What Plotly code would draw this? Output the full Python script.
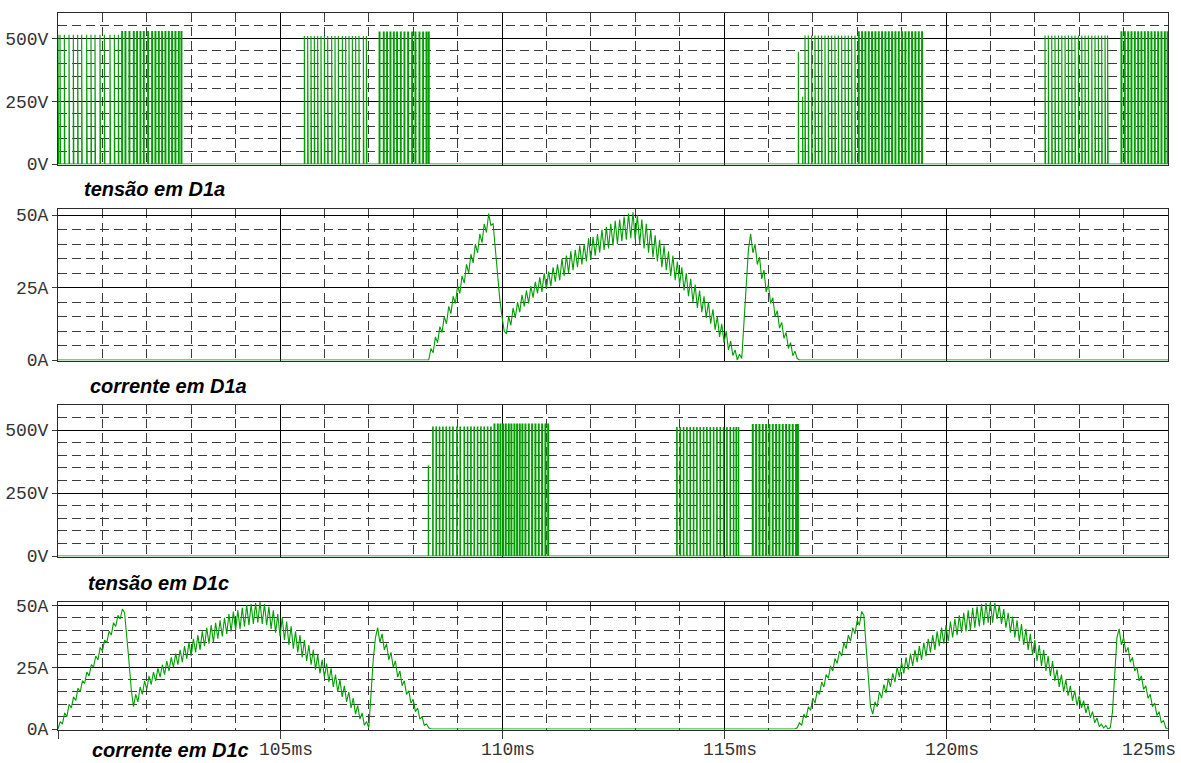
import plotly.graph_objects as go

# ---------------- axis ticks / labels ----------------
X_RANGE = [100, 125]
X_MAJOR = [100, 105, 110, 115, 120, 125]
X_LABELS = ["105ms", "110ms", "115ms", "120ms", "125ms"]
X_LABEL_POS = [105, 110, 115, 120, 125]

V_TICKS = [0, 250, 500]
V_LABELS = ["0V", "250V", "500V"]
I_TICKS = [0, 25, 50]
I_LABELS = ["0A", "25A", "50A"]

PANEL_TITLES = ["tensão em D1a", "corrente em D1a", "tensão em D1c", "corrente em D1c"]

# ---------------- tensão em D1a : switching pulses (ms) ----------------
VA_A1 = [100.000, 100.045, 100.143, 100.248, 100.345, 100.443, 100.533, 100.646, 100.743,
         100.833, 100.946, 101.044, 101.171, 101.269, 101.359]
VA_A2 = [101.434, 101.509, 101.599, 101.697, 101.772, 101.847, 101.922, 102.020, 102.110,
         102.185, 102.260, 102.335, 102.410, 102.485, 102.560, 102.635, 102.710, 102.770]
VA_B = [105.548, 105.623, 105.698, 105.773, 105.848, 105.923, 105.999, 106.074, 106.164,
        106.239, 106.314, 106.404, 106.479, 106.554, 106.629, 106.704, 106.779, 106.877, 106.945]
VA_C = [107.232, 107.327, 107.402, 107.478, 107.553, 107.628, 107.710, 107.793, 107.876,
        107.966, 108.041, 108.131, 108.214, 108.289, 108.340]
VA_D1 = [116.824, 116.899, 116.974, 117.049, 117.124, 117.199, 117.274, 117.349, 117.424,
         117.499, 117.575, 117.650, 117.725, 117.800, 117.875, 117.950]
VA_D2 = [118.025, 118.100, 118.175, 118.250, 118.325, 118.400, 118.475, 118.550, 118.626,
         118.701, 118.776, 118.851, 118.926, 119.001, 119.076, 119.151, 119.226, 119.301,
         119.376, 119.451]
VA_E = [122.230, 122.305, 122.382, 122.455, 122.531, 122.608, 122.681, 122.756, 122.833,
        122.906, 122.981, 123.058, 123.131, 123.206, 123.283, 123.356, 123.431, 123.507,
        123.582, 123.640]
VA_F = [123.942, 124.017, 124.094, 124.167, 124.242, 124.319, 124.392, 124.467, 124.544,
        124.617, 124.692, 124.769, 124.843, 124.918, 124.980]
VA_TOPS = [515, 527, 510, 525, 512, 526, 512, 526]
VA_WIDTHS = [0.012, 0.02, 0.012, 0.02, 0.012, 0.02, 0.012, 0.02]
VA_PARTIAL_T = [116.674, 116.771]
VA_PARTIAL_V = [447, 268]

# ---------------- tensão em D1c : switching pulses (ms) ----------------
VC_G1 = [108.438, 108.513, 108.588, 108.664, 108.739, 108.814, 108.889, 108.979, 109.054,
         109.144, 109.219, 109.294, 109.369, 109.444, 109.519, 109.594, 109.670, 109.745]
VC_G2 = [109.820, 109.895, 109.955, 110.015, 110.075, 110.142, 110.202, 110.270, 110.330,
         110.390, 110.450, 110.518, 110.593, 110.668, 110.743, 110.818, 110.893, 110.968, 111.030]
VC_H = [113.934, 114.009, 114.084, 114.159, 114.234, 114.309, 114.384, 114.459, 114.534,
        114.609, 114.685, 114.760, 114.835, 114.910, 114.985, 115.060, 115.135, 115.210,
        115.270, 115.320]
VC_I = [115.638, 115.713, 115.788, 115.863, 115.938, 116.013, 116.088, 116.163, 116.238,
        116.313, 116.388, 116.463, 116.538, 116.613, 116.655]
VC_TOPS = [512, 524, 510, 522]
VC_WIDTHS = [0.012, 0.02, 0.012, 0.02]
VC_PARTIAL_T = [108.340]
VC_PARTIAL_V = [357]

# ---------------- corrente em D1a (A), samples every 0.05 ms from 108.00 ms ----------------
IA_T0 = 108.00
IA_DT = 0.05
IA = [0, 0, 0, 0, 0, 0, 0, 0, 4, 2.5,
      8, 6, 11.5, 9.5, 15, 12.5, 18.5, 16, 22, 19.5,
      25.5, 23, 29, 26.5, 33, 30, 36.5, 33.5, 40, 37,
      43.5, 40.5, 47, 44, 50.5, 46.5, 47, 38, 29, 21,
      15, 10, 9, 15, 12, 18, 14.5, 20, 16.5, 22.5,
      18.5, 24, 19.5, 25.5, 21.5, 27, 23, 28.5, 23.5, 30,
      24.5, 30.5, 25.5, 32, 27, 33, 27.5, 35, 29, 36,
      30, 37.5, 31, 38, 32, 39.5, 33, 40, 34, 42,
      34.5, 42.5, 36, 43.5, 37, 45, 38, 46, 38.5, 47,
      39.5, 48, 40, 48.5, 41, 49.5, 41.5, 50.5, 42, 51,
      41.5, 50, 40, 48.5, 38.5, 47, 37, 45, 35.5, 43,
      34, 41.5, 32, 39.5, 31, 37.5, 29, 36, 27.5, 34,
      26, 32, 24, 30, 22, 28, 20, 26, 18, 24,
      16.5, 22, 14.5, 20, 12.5, 17.5, 10.5, 15, 8, 12.5,
      6, 10, 3.5, 6.5, 1.5, 3.5, 0, 2, 0.5, 12,
      26, 38, 43.5, 37, 40, 33, 35.5, 28, 31, 23.5,
      26, 19.5, 21.5, 15, 17, 11, 13, 7.5, 9.5, 4,
      6, 1.5, 3, 0.5, 0, 0, 0, 0, 0, 0]

# ---------------- corrente em D1c (A), two conduction intervals ----------------
IC1_T0 = 100.00
IC1 = [0, 3, 2, 6.5, 5, 10, 8.5, 13, 11.5, 16.5,
       15, 19.5, 18.5, 23, 21.5, 26, 25, 29.5, 28, 33,
       31.5, 36, 35, 39.5, 38, 43, 41.5, 46, 44.5, 48.5,
       47, 38, 27, 16, 9, 14, 11, 17, 14, 19.5,
       16, 21.5, 18, 23, 19.5, 24.5, 21, 26, 22, 27.5,
       23.5, 29, 25, 30.5, 26, 32, 27, 33.5, 28.5, 35,
       29.5, 36.5, 31, 38, 32, 39.5, 33.5, 41, 34.5, 42,
       35, 43, 36.5, 44, 37.5, 45, 38.5, 46.5, 39.5, 47.5,
       40, 48, 40.5, 49, 41.5, 50, 42, 50.5, 42.5, 51,
       43, 51.5, 42.5, 50.5, 42, 49.5, 40.5, 48, 39, 46.5,
       37.5, 45, 36, 43.5, 34, 41.5, 32.5, 39.5, 31, 38,
       29, 36, 27.5, 34, 26, 32, 24, 30, 22.5, 28,
       21, 26.5, 19, 24.5, 17, 22, 15, 20, 13, 17.5,
       11, 15, 8.5, 12.5, 6, 9.5, 4, 6.5, 1.5, 3,
       0.5, 14, 28, 37, 41, 35, 38.5, 32, 34.5, 28,
       31, 25, 27.5, 21, 23.5, 17.5, 19.5, 14, 15.5, 10.5,
       12, 7, 8.5, 4, 5, 1.5, 2, 0.5, 0, 0]
IC2_T0 = 116.50
IC2 = [0, 0, 0, 0.5, 2.5, 1.5, 6, 4.5, 9, 7.5,
       12.5, 10.5, 15.5, 14, 19, 17, 22, 20.5, 25.5, 23.5,
       28.5, 26.5, 31.5, 29.5, 35, 32.5, 38, 35.5, 41, 38.5,
       44, 42, 47.5, 46, 33, 19, 9, 6, 11, 9,
       15, 12.5, 18, 14.5, 20.5, 17, 22.5, 19, 25, 21,
       27, 22.5, 29, 24, 30.5, 25.5, 32, 27, 33.5, 28,
       35, 29.5, 36.5, 31, 38, 32, 39.5, 33.5, 41, 34.5,
       42, 35.5, 43.5, 37, 44.5, 38, 46, 39, 47, 39.5,
       48, 40, 49, 41, 49.5, 41.5, 50.5, 42, 51, 43,
       51.5, 43, 51, 44.5, 50, 42.5, 48.5, 41, 47, 39,
       45.5, 37, 44, 35.5, 42.5, 34, 40.5, 32, 38.5, 30,
       36, 27.5, 34, 25.5, 32, 23.5, 29.5, 21.5, 27.5, 19.5,
       24, 17, 22, 15, 20, 13.5, 17.5, 11.5, 15.5, 9.5,
       13.5, 8.5, 11.5, 6.5, 9.5, 4.5, 7, 2.5, 4.5, 1,
       2, 0.5, 1.5, 0, 0.5, 7, 24, 37, 40.5, 34,
       37, 31, 33, 27, 29, 23.5, 25, 19.5, 21.5, 16,
       17.5, 12.5, 14, 9, 10.5, 5.5, 7, 2.5, 3.5, 0.5,
       0]

# ---------------- build step / sample arrays ----------------
def pulse_wave(bursts, tops, widths, part_t, part_v):
    events = []
    for times, top, w in zip(bursts, tops, widths):
        for t in times:
            events.append((t, top, w))
    for t, v in zip(part_t, part_v):
        events.append((t, v, 0.008))
    events.sort()
    xs, ys = [X_RANGE[0]], [0]
    for t, top, w in events:
        xs += [t, t, t + w, t + w]
        ys += [0, top, top, 0]
    xs.append(X_RANGE[1])
    ys.append(0)
    return xs, ys


def sampled(t0, dt, vals):
    return [round(t0 + k * dt, 4) for k in range(len(vals))], list(vals)


va_x, va_y = pulse_wave([VA_A1, VA_A2, VA_B, VA_C, VA_D1, VA_D2, VA_E, VA_F],
                        VA_TOPS, VA_WIDTHS, VA_PARTIAL_T, VA_PARTIAL_V)
vc_x, vc_y = pulse_wave([VC_G1, VC_G2, VC_H, VC_I], VC_TOPS, VC_WIDTHS, VC_PARTIAL_T, VC_PARTIAL_V)

ia_t, ia_v = sampled(IA_T0, IA_DT, IA)
ia_x = [X_RANGE[0]] + ia_t + [X_RANGE[1]]
ia_y = [0] + ia_v + [0]

c1_t, c1_v = sampled(IC1_T0, IA_DT, IC1)
c2_t, c2_v = sampled(IC2_T0, IA_DT, IC2)
ic_x = c1_t + c2_t
ic_y = c1_v + c2_v

# ---------------- figure ----------------
W, H = 1181, 763
GREEN = "rgb(0,158,0)"
MONO = "Courier New, Liberation Mono, monospace"
SANS = "Liberation Sans, Arial, sans-serif"


def px_y(p):
    return 1 - p / H


XDOM = [58 / W, 1168 / W]
YDOMS = [
    [px_y(164.5), px_y(13.3)],
    [px_y(360.6), px_y(209.3)],
    [px_y(556.5), px_y(405.0)],
    [px_y(729.5), px_y(601.7)],
]
YRANGES = [[-2, 600], [-0.2, 52], [-2, 600], [-0.2, 51.5]]
YTICKS = [(V_TICKS, V_LABELS, 50), (I_TICKS, I_LABELS, 5), (V_TICKS, V_LABELS, 50), (I_TICKS, I_LABELS, 5)]

fig = go.Figure()
series = [(va_x, va_y), (ia_x, ia_y), (vc_x, vc_y), (ic_x, ic_y)]
for i, (xs, ys) in enumerate(series, start=1):
    fig.add_trace(go.Scatter(x=xs, y=ys, mode="lines", line=dict(color=GREEN, width=1.1),
                             xaxis="x" if i == 1 else f"x{i}", yaxis="y" if i == 1 else f"y{i}",
                             hoverinfo="skip", showlegend=False))

DASH = "9px,5px"
MINOR_COL = "#3c3c3c"
layout = dict(width=W, height=H, margin=dict(l=0, r=0, t=0, b=0), autosize=False,
              paper_bgcolor="white", plot_bgcolor="white", showlegend=False)
for i in range(1, 5):
    sx = "" if i == 1 else str(i)
    xa = dict(range=X_RANGE, domain=XDOM, anchor="y" + sx, showline=True, mirror=True,
              linecolor="#2a2a2a", linewidth=1, tickmode="array", tickvals=X_MAJOR,
              showticklabels=False, ticks="", showgrid=True, gridcolor="#000000", gridwidth=1,
              zeroline=False, layer="below traces", automargin=False, fixedrange=True,
              minor=dict(dtick=1, tick0=100, showgrid=True, gridcolor=MINOR_COL, griddash=DASH,
                         gridwidth=1))
    if i == 4:
        xa.update(ticks="outside", ticklen=8, tickcolor="#3a3a3a", tickwidth=1)
    tv, tt, mdt = YTICKS[i - 1]
    ya = dict(range=YRANGES[i - 1], domain=YDOMS[i - 1], anchor="x" + sx, showline=True, mirror=True,
              linecolor="#2a2a2a", linewidth=1, tickmode="array", tickvals=tv, ticktext=tt,
              ticks="outside", ticklen=5, tickcolor="#3a3a3a",
              tickfont=dict(family=MONO, size=18, color="#333333"),
              showgrid=True, gridcolor="#000000", gridwidth=1, zeroline=False,
              layer="below traces", automargin=False, fixedrange=True,
              minor=dict(dtick=mdt, tick0=0, showgrid=True, gridcolor=MINOR_COL, griddash=DASH,
                         gridwidth=1))
    layout["xaxis" + sx] = xa
    layout["yaxis" + sx] = ya

annotations = []
# panel captions
cap_pos = [(82, 189), (88, 386), (86, 583), (90, 750)]
for txt, (px, py) in zip(PANEL_TITLES, cap_pos):
    annotations.append(dict(text=f"<b><i>{txt}</i></b>", xref="paper", yref="paper",
                            x=px / W, y=px_y(py), xanchor="left", yanchor="middle",
                            showarrow=False, font=dict(family=SANS, size=20, color="black")))
# time tick labels
for lab, xv in zip(X_LABELS, X_LABEL_POS):
    if xv == X_RANGE[1]:
        annotations.append(dict(text=lab, xref="paper", yref="paper", x=1178 / W, y=px_y(750),
                                xanchor="right", yanchor="middle", showarrow=False,
                                font=dict(family=MONO, size=18, color="#333333")))
    else:
        annotations.append(dict(text=lab, xref="x4", yref="paper", x=xv, y=px_y(750),
                                xanchor="center", yanchor="middle", xshift=6, showarrow=False,
                                font=dict(family=MONO, size=18, color="#333333")))
layout["annotations"] = annotations
fig.update_layout(**layout)

fig.write_html("out.html", config={"displayModeBar": False},
               post_script="document.body.style.margin='0px';document.body.style.overflow='hidden';")
